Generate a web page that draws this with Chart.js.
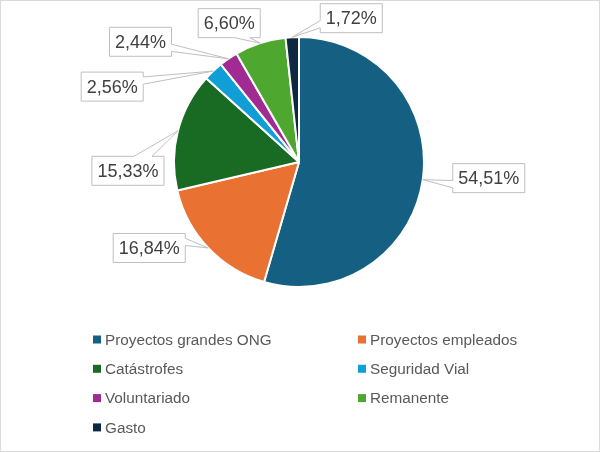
<!DOCTYPE html>
<html>
<head>
<meta charset="utf-8">
<script src="https://cdn.jsdelivr.net/npm/chart.js@4.4.1/dist/chart.umd.min.js"></script>
<style>
  html, body { margin: 0; padding: 0; background: #fff; }
  #wrap { position: relative; width: 600px; height: 452px; box-sizing: border-box; border: 1px solid #d9d9d9; }
  #wrap canvas { position: absolute; left: -1px; top: -1px; }
</style>
</head>
<body>
<div id="wrap"><canvas id="chart" width="600" height="452"></canvas></div>
<script>
// data
const categories = [
  'Proyectos grandes ONG',
  'Proyectos empleados',
  'Catástrofes',
  'Seguridad Vial',
  'Voluntariado',
  'Remanente',
  'Gasto',
];
const shares = [54.51, 16.84, 15.33, 2.56, 2.44, 6.60, 1.72];
const sliceColors = ['#156082', '#E97132', '#196B24', '#0F9ED5', '#A02B93', '#4EA72E', '#0E2841'];

// where each callout box sits relative to its slice tip (px)
const calloutShift = [
  [66, -1.5],
  [-59, 0],
  [-50, 40],
  [-101, 15.5],
  [-88, -17],
  [-31, -20],
  [59, -19],
];

const LABEL_FONT = '18px "Liberation Sans", Arial, sans-serif';
const LEGEND_FONT = '15.3px "Liberation Sans", Arial, sans-serif';

function fmt(v) {
  return v.toFixed(2).replace('.', ',') + '%';
}

// Office style wedge rectangle callout
function drawCallout(ctx, tip, cx, cy, w, h, text) {
  const left = cx - w / 2, top = cy - h / 2;
  const dx = tip.x - cx, dy = tip.y - cy;
  const dq = dx * h / w;
  const dz = Math.abs(dy) - Math.abs(dq);
  const x1 = left + w * (dx > 0 ? 7 : 2) / 12;
  const x2 = left + w * (dx > 0 ? 10 : 5) / 12;
  const y1 = top + h * (dy > 0 ? 7 : 2) / 12;
  const y2 = top + h * (dy > 0 ? 10 : 5) / 12;
  const r = left + w, b = top + h;

  ctx.beginPath();
  ctx.moveTo(left, top);
  if (dz > 0 && dy < 0) { ctx.lineTo(x1, top); ctx.lineTo(tip.x, tip.y); ctx.lineTo(x2, top); }
  ctx.lineTo(r, top);
  if (dz <= 0 && dx > 0) { ctx.lineTo(r, y1); ctx.lineTo(tip.x, tip.y); ctx.lineTo(r, y2); }
  ctx.lineTo(r, b);
  if (dz > 0 && dy > 0) { ctx.lineTo(x2, b); ctx.lineTo(tip.x, tip.y); ctx.lineTo(x1, b); }
  ctx.lineTo(left, b);
  if (dz <= 0 && dx < 0) { ctx.lineTo(left, y2); ctx.lineTo(tip.x, tip.y); ctx.lineTo(left, y1); }
  ctx.closePath();
  ctx.fillStyle = '#ffffff';
  ctx.fill();
  ctx.lineWidth = 1;
  ctx.strokeStyle = '#bfbfbf';
  ctx.stroke();

  ctx.fillStyle = '#404040';
  ctx.textAlign = 'center';
  ctx.textBaseline = 'middle';
  ctx.fillText(text, cx, cy + 1);
}

const calloutPlugin = {
  id: 'callouts',
  afterDatasetsDraw(chart) {
    const ctx = chart.ctx;
    const arcs = chart.getDatasetMeta(0).data;
    ctx.save();
    ctx.font = LABEL_FONT;
    arcs.forEach((arc, i) => {
      const mid = (arc.startAngle + arc.endAngle) / 2;
      const tip = {
        x: arc.x + Math.cos(mid) * arc.outerRadius,
        y: arc.y + Math.sin(mid) * arc.outerRadius,
      };
      const text = fmt(shares[i]);
      const w = ctx.measureText(text).width + 11;
      const h = 29;
      drawCallout(ctx, tip, tip.x + calloutShift[i][0], tip.y + calloutShift[i][1], w, h, text);
    });
    ctx.restore();
  },
};

const legendPlugin = {
  id: 'twoColLegend',
  afterDraw(chart) {
    const ctx = chart.ctx;
    const colX = [93, 358];
    const rowY0 = 339.5, rowStep = 29.3;
    ctx.save();
    ctx.font = LEGEND_FONT;
    ctx.textBaseline = 'middle';
    ctx.textAlign = 'left';
    chart.data.labels.forEach((label, i) => {
      const x = colX[i % 2];
      const y = rowY0 + Math.floor(i / 2) * rowStep;
      ctx.fillStyle = chart.data.datasets[0].backgroundColor[i];
      ctx.fillRect(x, y - 4, 8, 8);
      ctx.fillStyle = '#595959';
      ctx.fillText(label, x + 12, y + 1);
    });
    ctx.restore();
  },
};

new Chart(document.getElementById('chart'), {
  type: 'pie',
  data: {
    labels: categories,
    datasets: [{
      data: shares,
      backgroundColor: sliceColors,
      borderColor: '#ffffff',
      borderWidth: 2,
    }],
  },
  options: {
    responsive: false,
    animation: false,
    layout: { padding: { top: 36, bottom: 164, left: 173, right: 175 } },
    plugins: {
      legend: { display: false },
      tooltip: { enabled: false },
    },
  },
  plugins: [calloutPlugin, legendPlugin],
});
</script>
</body>
</html>
